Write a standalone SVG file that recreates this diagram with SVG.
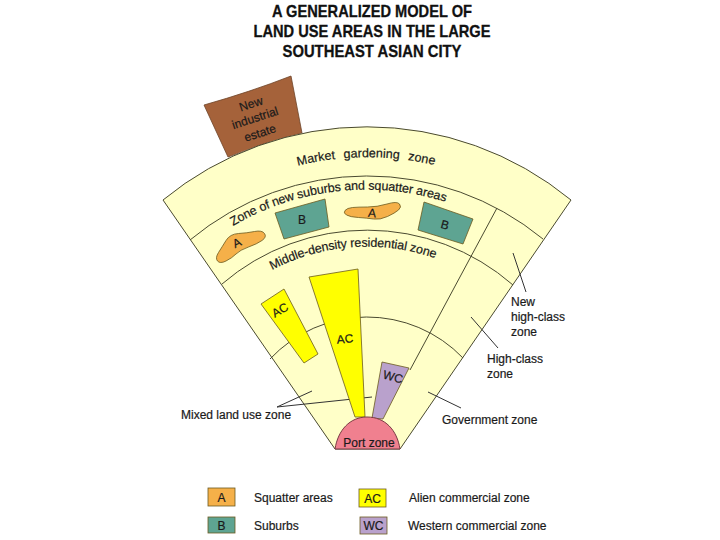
<svg xmlns="http://www.w3.org/2000/svg" xmlns:xlink="http://www.w3.org/1999/xlink" width="720" height="540" viewBox="0 0 720 540">
<style>
text{font-family:"Liberation Sans",Arial,sans-serif;fill:#1a1a1a;stroke:#1a1a1a;stroke-width:.2px}
.t{font-size:17px;font-weight:bold;text-anchor:middle;fill:#111;stroke:#111;stroke-width:.3px}
.l{font-size:12px}
.z{font-size:12.5px}
.c{font-size:12px;text-anchor:middle}
.arc{fill:none;stroke:#4a4a30;stroke-width:1}
.lead{fill:none;stroke:#333;stroke-width:1}
.sh{stroke:#6b5a20;stroke-width:.8}
</style>
<defs>
<path id="p1" d="M270 174A291 291 0 0 1 470 176"/>
<path id="p2" d="M233 226A263 263 0 0 1 470 211"/>
<path id="p3" d="M272 270A205 205 0 0 1 460 269"/>
</defs>
<rect width="720" height="540" fill="#fff"/>
<g id="title">
<text class="t" x="372" y="17" textLength="200" lengthAdjust="spacingAndGlyphs">A GENERALIZED MODEL OF</text>
<text class="t" x="372" y="37" textLength="237" lengthAdjust="spacingAndGlyphs">LAND USE AREAS IN THE LARGE</text>
<text class="t" x="372" y="57" textLength="179" lengthAdjust="spacingAndGlyphs">SOUTHEAST ASIAN CITY</text>
</g>
<g id="industrial-estate">
<path d="M204 105Q250 92 291 76L302 133Q265 142 228 157Z" fill="#a5623a" stroke="#6d4428" stroke-width=".8"/>
<text class="c" x="251" y="108" transform="rotate(-18 251 104)">New</text>
<text class="c" x="255" y="122" transform="rotate(-18 255 118)">industrial</text>
<text class="c" x="260" y="137" transform="rotate(-18 260 133)">estate</text>
</g>
<g id="fan">
<path d="M335 449L163 200A321 321 0 0 1 571 200L400 449Z" fill="#ffffc8" stroke="#4a4a30" stroke-width="1"/>
</g>
<g id="connectors">
<path class="arc" d="M190 240A277 277 0 0 1 543 239"/>
<path class="arc" d="M222 284A222 222 0 0 1 513 285"/>
<path class="arc" d="M270 359A133 133 0 0 1 463 358"/>
<path class="arc" d="M497 208L410 370"/>
<path class="lead" d="M513 253L526 292"/>
<path class="lead" d="M471 317L498 348"/>
<path class="lead" d="M428 392L461 408"/>
<path class="lead" d="M312 391L277 407L372 397"/>
</g>
<g id="squatter-1">
<path class="sh" d="M217.500 261Q215 258 218.500 252.500Q222 247 226 240.500Q230 234 238.500 233.500Q247 233 254.500 231.500Q262 230 264.500 233.500Q267 237 262 240.500Q257 244 248.500 247Q240 250 236 254Q232 258 226 261Q220 264 217.500 261Z" fill="#f5b049"/>
<text class="c" x="237" y="247" transform="rotate(-25 237 243)">A</text>
</g>
<g id="suburb-1">
<polygon class="sh" points="275,213 325,199 329,227 284,239" fill="#5ea492"/>
<text class="c" x="302" y="224">B</text>
</g>
<g id="squatter-2">
<path class="sh" d="M346.500 215Q343 213 345 210.500Q347 208 352.500 207.500Q358 207 367.500 207Q377 207 387 204Q397 201 399.500 204Q402 207 398.500 210Q395 213 387.500 216.500Q380 220 373.500 219Q367 218 358.500 217.500Q350 217 346.500 215Z" fill="#f5b049"/>
<text class="c" x="372" y="217" transform="rotate(5 372 213)">A</text>
</g>
<g id="suburb-2">
<polygon class="sh" points="424,202 473,219 463,244 418,230" fill="#5ea492"/>
<text class="c" x="445" y="229" transform="rotate(15 445 225)">B</text>
</g>
<g id="ac-small">
<polygon class="sh" points="261,304 284,289 318,354 304,363" fill="#ffff00"/>
<text class="c" x="280" y="314" transform="rotate(-30 280 310)">AC</text>
</g>
<g id="ac-large">
<polygon class="sh" points="309,277 358,269 365,417 355,417" fill="#ffff00"/>
<text class="c" x="345" y="343" transform="rotate(-5 345 339)">AC</text>
</g>
<g id="wc">
<polygon class="sh" points="382,362 409,368 383,419 372,418" fill="#b9a1cc"/>
<text class="c" x="393" y="381" transform="rotate(15 393 377)">WC</text>
</g>
<g id="port-zone">
<path d="M335 449C338 430 350 417 367 417C385 417 397 430 400 449Z" fill="#f0808f" stroke="#7a3a44" stroke-width="1"/>
<text class="c" x="369" y="447">Port zone</text>
</g>
<g id="zone-labels">
<text class="z" style="word-spacing:5px"><textPath xlink:href="#p1" href="#p1" startOffset="29">Market gardening zone</textPath></text>
<text class="z"><textPath xlink:href="#p2" href="#p2" textLength="220">Zone of new suburbs and squatter areas</textPath></text>
<text class="z"><textPath xlink:href="#p3" href="#p3" textLength="168">Middle-density residential zone</textPath></text>
<text class="l" x="511" y="306">New</text>
<text class="l" x="511" y="321">high-class</text>
<text class="l" x="511" y="336">zone</text>
<text class="l" x="487" y="363">High-class</text>
<text class="l" x="487" y="378">zone</text>
<text class="l" x="442" y="424">Government zone</text>
<text class="l" x="181" y="419">Mixed land use zone</text>
</g>
<g id="legend">
<rect class="sh" x="208" y="488" width="27" height="18" fill="#f5b049"/>
<text class="c" x="221.500" y="502">A</text>
<text class="l" x="254" y="502">Squatter areas</text>
<rect class="sh" x="208" y="517" width="27" height="16" fill="#5ea492"/>
<text class="c" x="221.500" y="530">B</text>
<text class="l" x="254" y="530">Suburbs</text>
<rect class="sh" x="359" y="489" width="27" height="18" fill="#ffff00"/>
<text class="c" x="372.500" y="503">AC</text>
<text class="l" x="409" y="502">Alien commercial zone</text>
<rect class="sh" x="360" y="517" width="27" height="17" fill="#b9a1cc"/>
<text class="c" x="373.500" y="530">WC</text>
<text class="l" x="408" y="530">Western commercial zone</text>
</g>
</svg>
